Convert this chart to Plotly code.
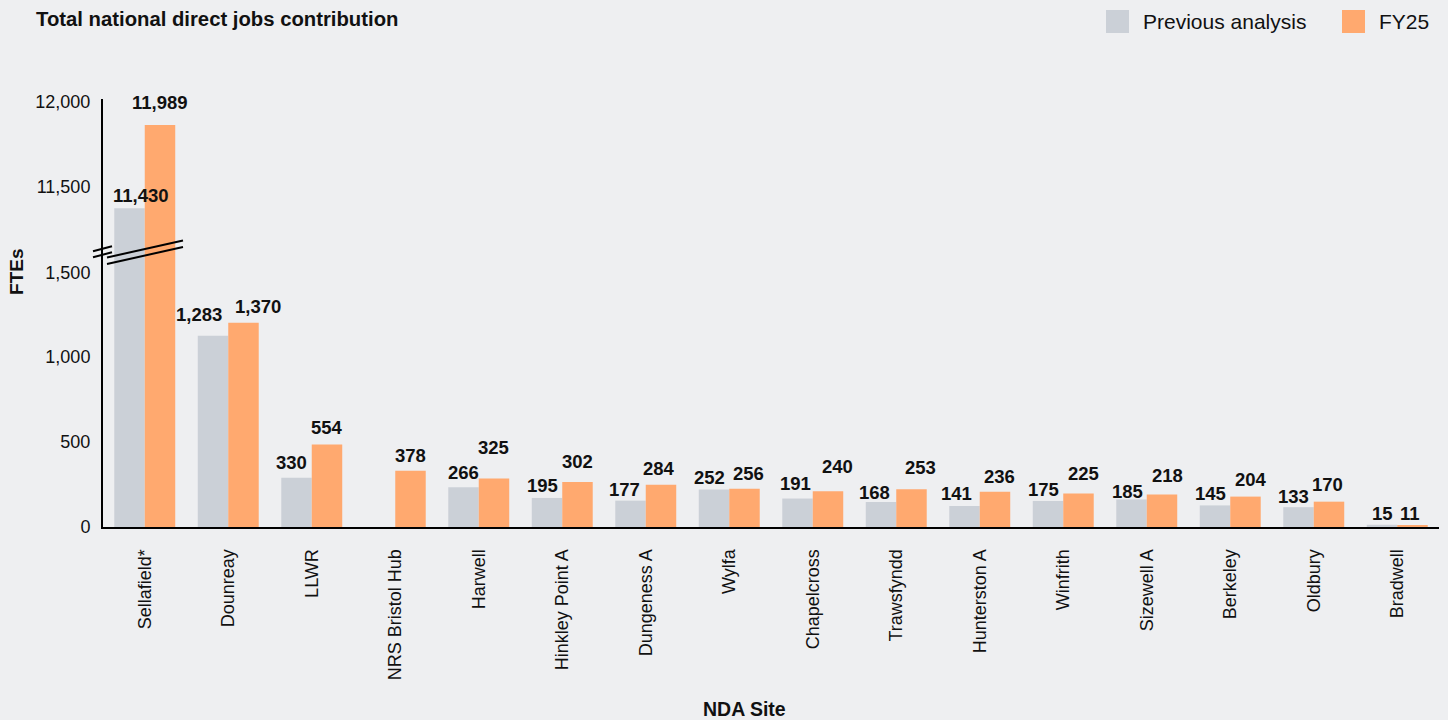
import plotly.graph_objects as go

# ---------------- data ----------------
sites = ["Sellafield*", "Dounreay", "LLWR", "NRS Bristol Hub", "Harwell",
         "Hinkley Point A", "Dungeness A", "Wylfa", "Chapelcross", "Trawsfyndd",
         "Hunterston A", "Winfrith", "Sizewell A", "Berkeley", "Oldbury", "Bradwell"]
previous = [11430, 1283, 330, None, 266, 195, 177, 252, 191, 168, 141, 175, 185, 145, 133, 15]
fy25 = [11989, 1370, 554, 378, 325, 302, 284, 256, 240, 253, 236, 225, 218, 204, 170, 11]

lower_tick_labels = [0, 500, 1000, 1500]
upper_tick_labels = [11500, 12000]

# label nudges (pixels) used to keep value labels apart, as in the original
prev_dx = [11.5, -14, -4.7, 0, 0, -5, -5.7, -4.5, -1.6, -7, -7.8, -4.3, -4.5, -4.5, -5.2, 0]
prev_dy = [13, 21, 15, 0, 15.3, 12.7, 11.3, 12.3, 15.3, 9.3, 12.7, 11.7, 8.3, 11.7, 11, 11.7]
fy_dx = [0, 15, 0, 0, 0, 0, -1.6, 3.7, 9.5, 9, 5, 5.4, 5.5, 5.8, -1.2, -2]
fy_dy = [22, 16.3, 17.3, 15, 30.7, 21, 15.7, 15.7, 24.3, 21.7, 15.6, 19.7, 19, 16.7, 16.7, 11.7]

# ---------------- style / layout ----------------
BG = "#EEEFF1"
GREY = "#CBD0D7"
ORANGE = "#FFA96F"
TEXT = "#111111"
FONT = "Liberation Sans, Arial, Helvetica, sans-serif"

W, H = 1448, 720
PLOT_L, PLOT_R, PLOT_T, PLOT_B = 103, 1439, 99, 527
BREAK_PX = 250
PX_PER_UNIT = 0.149
TICK_STRETCH = 1.14          # the original's tick spacing vs. bar scale
UPPER_TICK_BASE = 11575      # where the "11,500" tick sits on the upper scale


def px_x(px):
    return (px - PLOT_L) / (PLOT_R - PLOT_L)


def px_y(py):
    return (PLOT_B - py) / (PLOT_B - PLOT_T)


BREAK = px_y(BREAK_PX)
LOW_TOP = (PLOT_B - BREAK_PX) / PX_PER_UNIT
UP_BOTTOM = 11150
UP_TOP = UP_BOTTOM + (BREAK_PX - PLOT_T) / PX_PER_UNIT

fig = go.Figure()
for yax in ["y", "y2"]:
    fig.add_trace(go.Bar(x=sites, y=previous, name="Previous analysis", marker_color=GREY,
                         marker_line_width=0, yaxis=yax, showlegend=False, cliponaxis=True))
    fig.add_trace(go.Bar(x=sites, y=fy25, name="FY25", marker_color=ORANGE,
                         marker_line_width=0, yaxis=yax, showlegend=False, cliponaxis=True))

BAR_OFF = (PLOT_R - PLOT_L) / len(sites) * (1 - 0.27) / 4

annotations = []
for series, dxs, dys, sign in [(previous, prev_dx, prev_dy, -1), (fy25, fy_dx, fy_dy, 1)]:
    for site, v, dx, dy in zip(sites, series, dxs, dys):
        if v is None:
            continue
        yref = "y2" if v > LOW_TOP else "y"
        annotations.append(dict(
            x=site, y=v, xref="x", yref=yref, text=f"<b>{v:,}</b>", showarrow=False,
            xanchor="center", yanchor="middle", xshift=sign * BAR_OFF + dx, yshift=dy,
            font=dict(size=18.5, color=TEXT, family=FONT)))

# titles
annotations.append(dict(x=px_x(34), y=px_y(19), xref="paper", yref="paper",
                        text="<b>Total national direct jobs contribution</b>", showarrow=False,
                        xanchor="left", yanchor="middle", font=dict(size=20.3, color=TEXT)))
annotations.append(dict(x=px_x(744), y=px_y(709), xref="paper", yref="paper",
                        text="<b>NDA Site</b>", showarrow=False,
                        xanchor="center", yanchor="middle", font=dict(size=19.5, color=TEXT)))
annotations.append(dict(x=px_x(16), y=px_y(272), xref="paper", yref="paper",
                        text="<b>FTEs</b>", showarrow=False, textangle=-90,
                        xanchor="center", yanchor="middle", font=dict(size=19, color=TEXT)))

# manual legend
shapes = []
legend_items = [("Previous analysis", GREY, 1106), ("FY25", ORANGE, 1342)]
for label, col, x0 in legend_items:
    shapes.append(dict(type="rect", xref="paper", yref="paper",
                       x0=px_x(x0), x1=px_x(x0 + 23), y0=px_y(33), y1=px_y(10),
                       fillcolor=col, line_width=0))
    annotations.append(dict(x=px_x(x0 + 35), y=px_y(21.5), xref="paper", yref="paper",
                            text=label, showarrow=False, xanchor="left", yanchor="middle",
                            font=dict(size=21, color=TEXT)))

# axis-break marks
for (xa, ya, xb, yb) in [(93, 251.3, 112, 246.3), (93, 257.3, 112, 252.3),
                         (107, 257.5, 183, 240.5), (107, 264, 183, 247)]:
    shapes.append(dict(type="line", xref="paper", yref="paper",
                       x0=px_x(xa), y0=px_y(ya), x1=px_x(xb), y1=px_y(yb),
                       line=dict(color="black", width=2)))

fig.update_layout(
    width=W, height=H,
    margin=dict(l=PLOT_L, r=W - PLOT_R, t=PLOT_T, b=H - PLOT_B, pad=0),
    paper_bgcolor=BG, plot_bgcolor=BG,
    barmode="group", bargap=0.27, bargroupgap=0,
    showlegend=False,
    font=dict(family=FONT, size=18, color=TEXT),
    xaxis=dict(type="category", anchor="y", showline=True, linecolor="black", linewidth=2,
               showgrid=False, zeroline=False, ticks="", tickangle=-90,
               tickfont=dict(size=18, color=TEXT), ticklabelstandoff=13),
    yaxis=dict(domain=[0, BREAK], range=[0, LOW_TOP], showline=True, linecolor="black",
               linewidth=2, showgrid=False, zeroline=False, ticks="",
               tickvals=[v * TICK_STRETCH for v in lower_tick_labels],
               ticktext=[f"{v:,}" for v in lower_tick_labels],
               tickfont=dict(size=18, color=TEXT), ticklabelstandoff=7),
    yaxis2=dict(domain=[BREAK, 1], range=[UP_BOTTOM, UP_TOP], anchor="x", showline=True,
                linecolor="black", linewidth=2, showgrid=False, zeroline=False, ticks="",
                tickvals=[UPPER_TICK_BASE + (v - upper_tick_labels[0]) * TICK_STRETCH
                          for v in upper_tick_labels],
                ticktext=[f"{v:,}" for v in upper_tick_labels],
                tickfont=dict(size=18, color=TEXT), ticklabelstandoff=7),
    annotations=annotations,
    shapes=shapes,
)

fig.write_html("out.html")
